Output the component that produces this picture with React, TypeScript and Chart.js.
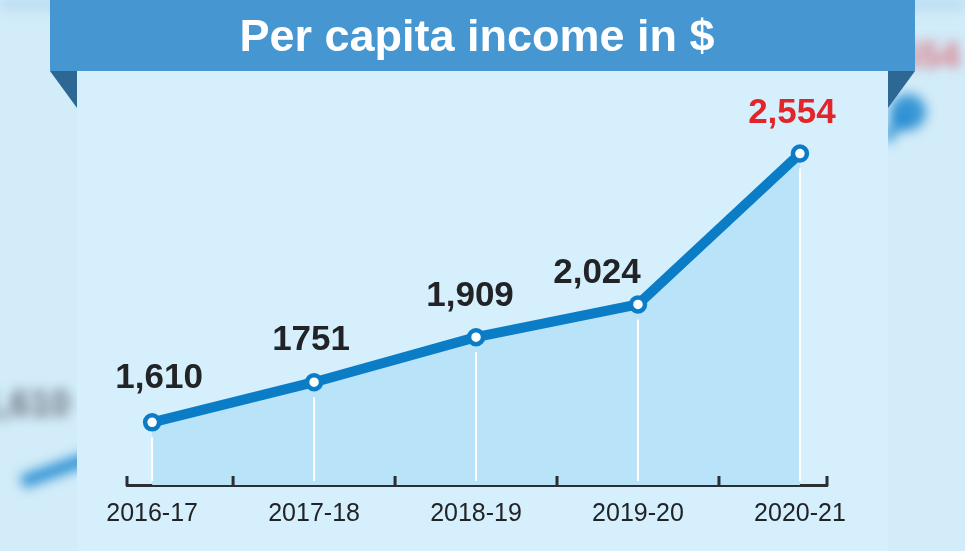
import React, { useEffect, useRef } from "react";
import { Chart, registerables } from "chart.js";

Chart.register(...registerables);

const categories = ["2016-17", "2017-18", "2018-19", "2019-20", "2020-21"];
const incomeValues = [1610, 1751, 1909, 2024, 2554];
const valueLabels = ["1,610", "1751", "1,909", "2,024", "2,554"];
const titleText = "Per capita income in $";

// label placement relative to each point (layout only)
const labelOffsets = [
  [7, -44],
  [-3, -42],
  [-6, -41],
  [-41, -31],
  [-8, -40],
];

const W = 965;
const H = 551;
const FONT = "'Liberation Sans', Arial, Helvetica, sans-serif";

const backgroundPlugin = {
  id: "bgDecor",
  beforeDraw(chart: any) {
    const ctx = chart.ctx as CanvasRenderingContext2D;
    ctx.save();
    ctx.fillStyle = "#d2ecf9";
    ctx.fillRect(0, 0, W, H);

    // blurred decorations outside the panel
    ctx.save();
    ctx.beginPath();
    ctx.rect(0, 0, 77, H);
    ctx.rect(888, 0, W - 888, H);
    ctx.clip();
    ctx.filter = "blur(6px)";
    const grad = ctx.createLinearGradient(0, 0, 0, 14);
    grad.addColorStop(0, "#a9d1ec");
    grad.addColorStop(1, "#d2ecf9");
    ctx.fillStyle = grad;
    ctx.fillRect(0, 0, W, 14);
    ctx.fillStyle = "rgba(70,70,80,0.75)";
    ctx.font = `bold 36px ${FONT}`;
    ctx.textBaseline = "middle";
    ctx.textAlign = "left";
    ctx.fillText("1,610", -20, 406);
    ctx.strokeStyle = "rgba(20,130,205,0.85)";
    ctx.lineWidth = 13;
    ctx.beginPath();
    ctx.moveTo(22, 482);
    ctx.lineTo(90, 458);
    ctx.stroke();
    ctx.fillStyle = "rgba(226,40,50,0.6)";
    ctx.fillText("2,554", 870, 58);
    ctx.fillStyle = "rgba(20,130,205,0.8)";
    ctx.beginPath();
    ctx.arc(908, 112, 18, 0, Math.PI * 2);
    ctx.fill();
    ctx.strokeStyle = "rgba(20,130,205,0.7)";
    ctx.lineWidth = 12;
    ctx.beginPath();
    ctx.moveTo(905, 115);
    ctx.lineTo(885, 140);
    ctx.stroke();
    ctx.restore();

    // panel
    ctx.fillStyle = "#d5effc";
    ctx.fillRect(77, 0, 888 - 77, H);

    // banner
    ctx.fillStyle = "#4596d1";
    ctx.fillRect(50, 0, 915 - 50, 71);
    ctx.fillStyle = "#2c6893";
    ctx.beginPath();
    ctx.moveTo(50, 71);
    ctx.lineTo(77, 71);
    ctx.lineTo(77, 108);
    ctx.closePath();
    ctx.fill();
    ctx.beginPath();
    ctx.moveTo(915, 71);
    ctx.lineTo(888, 71);
    ctx.lineTo(888, 108);
    ctx.closePath();
    ctx.fill();
    ctx.restore();
  },
};

const dropLinePlugin = {
  id: "dropLines",
  beforeDatasetDraw(chart: any) {
    const ctx = chart.ctx as CanvasRenderingContext2D;
    const meta = chart.getDatasetMeta(0);
    const bottom = chart.chartArea.bottom;
    ctx.save();
    ctx.strokeStyle = "#ffffff";
    ctx.lineWidth = 2;
    meta.data.forEach((pt: any) => {
      ctx.beginPath();
      ctx.moveTo(pt.x, pt.y + 15);
      ctx.lineTo(pt.x, bottom - 4);
      ctx.stroke();
    });
    ctx.restore();
  },
};

const annotatePlugin = {
  id: "annotate",
  afterDraw(chart: any) {
    const ctx = chart.ctx as CanvasRenderingContext2D;
    const xs = chart.scales.x;
    const { left, right, bottom } = chart.chartArea;
    ctx.save();
    ctx.strokeStyle = "#2b2f33";
    ctx.lineWidth = 3;
    const tickXs = [left, right];
    for (let i = 0; i < categories.length - 1; i++) {
      tickXs.push(xs.getPixelForValue(i + 0.5));
    }
    tickXs.forEach((x) => {
      ctx.beginPath();
      ctx.moveTo(x, bottom + 1);
      ctx.lineTo(x, bottom - 9);
      ctx.stroke();
    });

    const meta = chart.getDatasetMeta(0);
    ctx.font = `bold 35px ${FONT}`;
    ctx.textAlign = "center";
    ctx.textBaseline = "middle";
    meta.data.forEach((pt: any, i: number) => {
      ctx.fillStyle = i === valueLabels.length - 1 ? "#e2242b" : "#222326";
      ctx.fillText(valueLabels[i], pt.x + labelOffsets[i][0], pt.y + labelOffsets[i][1]);
    });
    ctx.restore();
  },
};

export default function App() {
  const ref = useRef<HTMLCanvasElement | null>(null);

  useEffect(() => {
    if (!ref.current) return;
    const chart = new Chart(ref.current, {
      type: "line",
      data: {
        datasets: [
          {
            data: incomeValues.map((v, i) => ({ x: i, y: v })),
            borderColor: "#0b7dc7",
            borderWidth: 10,
            backgroundColor: "#b9e3f8",
            fill: "start",
            tension: 0,
            pointRadius: 7,
            pointHoverRadius: 7,
            pointBorderWidth: 4.5,
            pointBorderColor: "#0b7dc7",
            pointBackgroundColor: "#ffffff",
          },
        ],
      },
      options: {
        responsive: false,
        animation: false,
        events: [],
        layout: { padding: { left: 127, right: 138, top: 0, bottom: 8 } },
        scales: {
          x: {
            type: "linear",
            min: -0.155,
            max: 4.167,
            afterBuildTicks: (s: any) => {
              s.ticks = categories.map((_, i) => ({ value: i }));
            },
            afterFit: (s: any) => {
              s.paddingLeft = 0;
              s.paddingRight = 0;
            },
            grid: { display: false, drawTicks: false },
            border: { display: true, color: "#2b2f33", width: 3 },
            ticks: {
              padding: 14,
              color: "#222326",
              font: { family: FONT, size: 25 },
              maxRotation: 0,
              autoSkip: false,
              callback: (v: any) => categories[Math.round(Number(v))] ?? "",
            },
          },
          y: {
            display: false,
            min: 1390,
            max: 2742,
          },
        },
        plugins: {
          legend: { display: false },
          tooltip: { enabled: false },
          title: {
            display: true,
            text: titleText,
            color: "#ffffff",
            font: { family: FONT, size: 45, weight: "bold", lineHeight: 1.2 },
            padding: { top: 12, bottom: 34 },
          },
        },
      },
      plugins: [backgroundPlugin, dropLinePlugin, annotatePlugin],
    } as any);
    return () => chart.destroy();
  }, []);

  return (
    <div style={{ position: "absolute", left: 0, top: 0, width: W, height: H }}>
      <canvas ref={ref} width={W} height={H} style={{ display: "block" }} />
    </div>
  );
}
